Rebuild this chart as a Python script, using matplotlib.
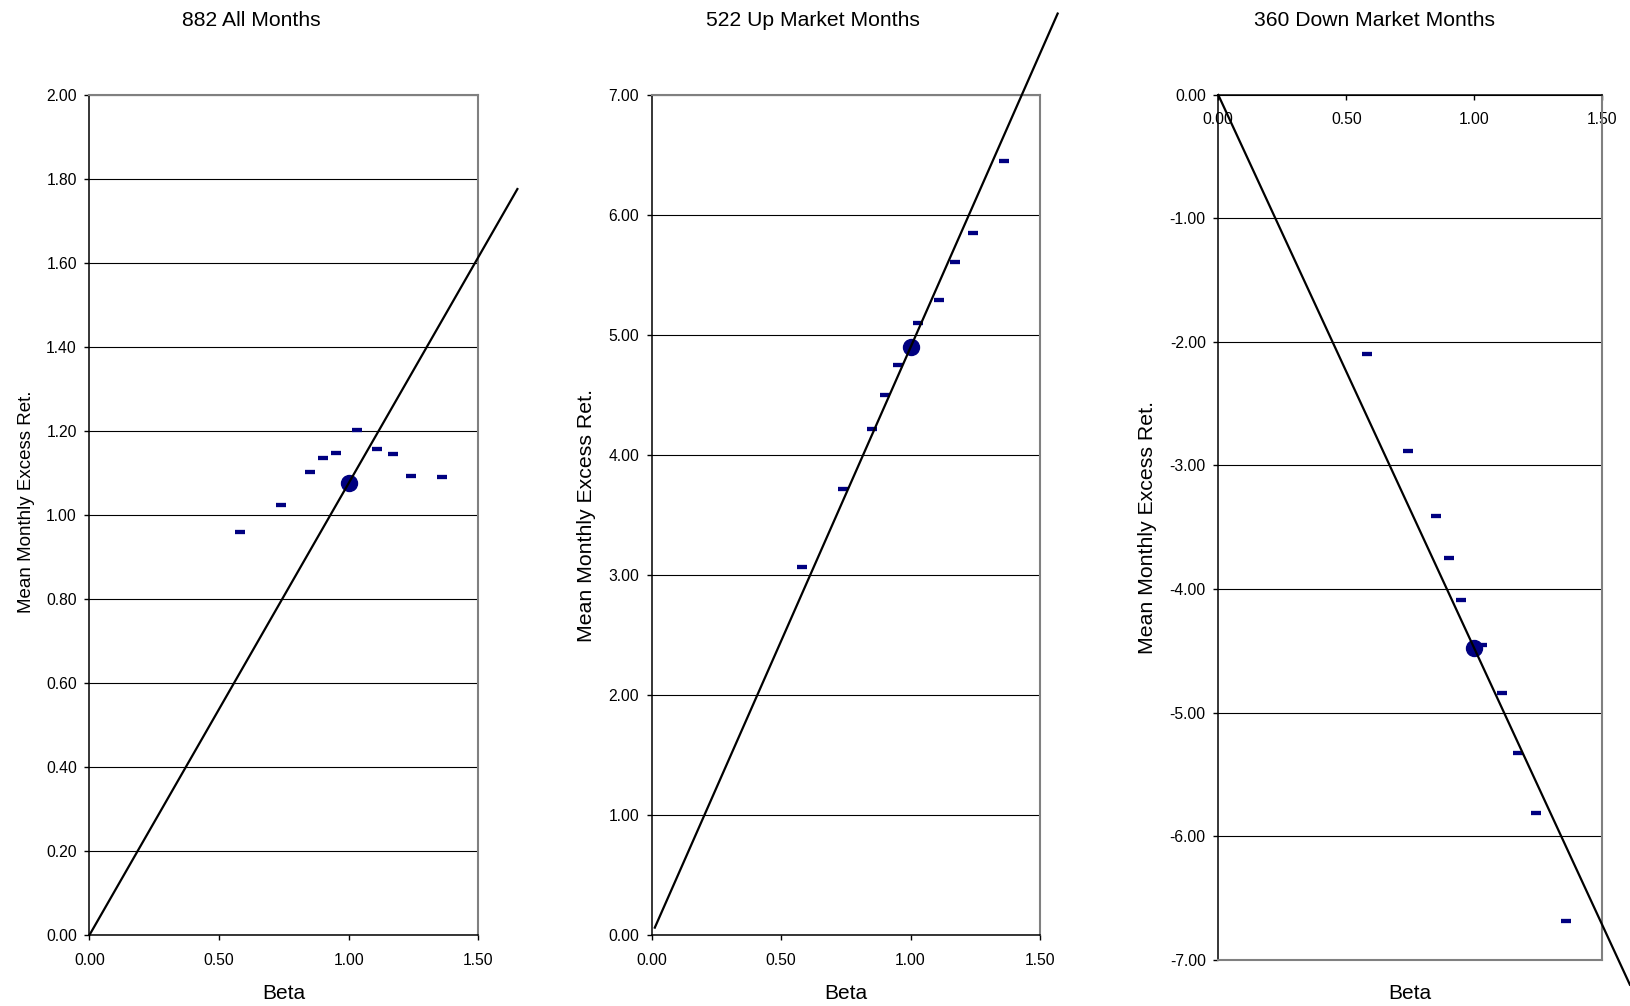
import matplotlib.pyplot as plt
from matplotlib.ticker import FormatStrFormatter, MultipleLocator

plt.rcParams['font.family'] = ['Liberation Sans', 'DejaVu Sans']

# decile portfolio betas and mean monthly excess returns
betas = [0.58, 0.74, 0.85, 0.90, 0.95, 1.03, 1.11, 1.17, 1.24, 1.36]
ret_all = [0.960, 1.024, 1.101, 1.135, 1.147, 1.203, 1.156, 1.145, 1.092, 1.090]
ret_up = [3.07, 3.72, 4.22, 4.50, 4.75, 5.10, 5.29, 5.61, 5.85, 6.45]
ret_down = [-2.10, -2.88, -3.41, -3.75, -4.09, -4.45, -4.84, -5.33, -5.81, -6.69]

# market portfolio
mkt_beta = 1.0
mkt_ret = [1.076, 4.90, -4.48]

titles = ["882 All Months", "522 Up Market Months", "360 Down Market Months"]
x_ticks = [0.0, 0.5, 1.0, 1.5]
y_limits = [(0.0, 2.0), (0.0, 7.0), (-7.0, 0.0)]
y_steps = [0.2, 1.0, 1.0]

# beta range over which the line through the market point is drawn
sml_start = [0.0, 0.012, 0.0]
sml_end = [1.65, 1.568, 1.608]

navy = '#000080'
border = '#808080'

fig = plt.figure(figsize=(16.31, 10.06), dpi=100)

rects = [[0.05487, 0.0706, 0.2385, 0.8353],
         [0.39957, 0.0709, 0.2381, 0.8342],
         [0.74697, 0.0462, 0.2354, 0.8594]]
title_x = [0.1543, 0.4987, 0.8430]
ylab_pos = [(0.0160, 0.501, 13.5), (0.3599, 0.488, 15.3), (0.7038, 0.476, 15.3)]
xlab_x = [0.1741, 0.5187, 0.8645]

series = [ret_all, ret_up, ret_down]

for i in range(3):
    ax = fig.add_axes(rects[i])
    lo, hi = y_limits[i]
    ax.set_xlim(0, 1.5)
    ax.set_ylim(lo, hi)

    # horizontal gridlines only
    ax.yaxis.set_major_locator(MultipleLocator(y_steps[i]))
    ax.yaxis.grid(True, color='black', lw=0.8, zorder=0)
    ax.set_axisbelow(True)
    ax.set_xticks(x_ticks)
    ax.xaxis.set_major_formatter(FormatStrFormatter('%.2f'))
    ax.yaxis.set_major_formatter(FormatStrFormatter('%.2f'))
    ax.tick_params(labelsize=11.3, length=3.5, width=1, direction='out')
    ax.tick_params(axis='y', pad=5.5)
    ax.tick_params(axis='x', pad=9.5 if i < 2 else 8.5)

    for s in ['top', 'right', 'bottom']:
        ax.spines[s].set_color(border)
        ax.spines[s].set_linewidth(1.5)
    ax.spines['left'].set_color('black')
    ax.spines['left'].set_linewidth(1.1)
    ax.spines['bottom'].set_color('black')
    ax.spines['bottom'].set_linewidth(1.1)

    if i == 2:
        # x axis crosses at zero, on top of the plot area
        ax.spines['bottom'].set_position(('data', 0))
        ax.spines['top'].set_visible(False)
        ax.axhline(lo, color=border, lw=1.5, clip_on=False, zorder=3)

    ax.plot(betas, series[i], ls='none', marker='_', ms=7.5, mew=3.1,
            color=navy, zorder=3)
    ax.plot([mkt_beta], [mkt_ret[i]], ls='none', marker='o', ms=11.5,
            color=navy, zorder=3)
    xs = [sml_start[i], sml_end[i]]
    ys = [mkt_ret[i] * x for x in xs]
    ax.plot(xs, ys, color='black', lw=1.6, clip_on=False, zorder=4)

    fig.text(title_x[i], 0.980, titles[i], ha='center', va='center', fontsize=15.2)
    fig.text(ylab_pos[i][0], ylab_pos[i][1], "Mean Monthly Excess Ret.",
             rotation=90, ha='center', va='center', fontsize=ylab_pos[i][2])
    fig.text(xlab_x[i], 0.0128, "Beta", ha='center', va='center', fontsize=15)

plt.savefig("out.png", dpi=100)
